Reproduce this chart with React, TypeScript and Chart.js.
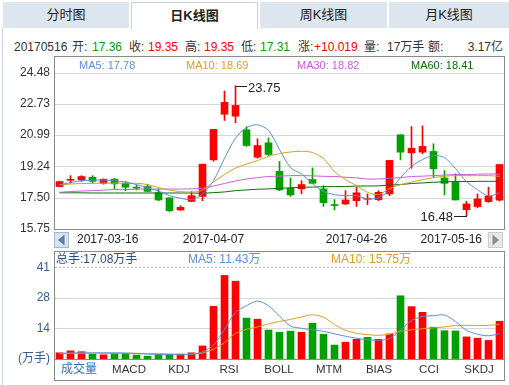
import React, { useEffect, useRef } from 'react';
import { Chart, registerables } from 'chart.js';

Chart.register(...registerables);

const FONT = "'Liberation Sans', Arial, 'Noto Sans CJK SC', sans-serif";
const RED = '#ff0000';
const GREEN = '#00a000';
const C_MA5 = '#5b8fd6';
const C_MA10 = '#d9a021';
const C_MA30 = '#c55fd6';
const C_MA60 = '#0b6b0b';

const dates = ['2017-03-16','2017-03-17','2017-03-20','2017-03-21','2017-03-22','2017-03-23','2017-03-24','2017-03-27','2017-03-28','2017-03-29','2017-03-30','2017-03-31','2017-04-05','2017-04-06','2017-04-07','2017-04-10','2017-04-11','2017-04-12','2017-04-13','2017-04-14','2017-04-17','2017-04-18','2017-04-19','2017-04-20','2017-04-21','2017-04-24','2017-04-25','2017-04-26','2017-04-27','2017-04-28','2017-05-02','2017-05-03','2017-05-04','2017-05-05','2017-05-08','2017-05-09','2017-05-10','2017-05-11','2017-05-12','2017-05-15','2017-05-16'];

const open = [18.12,18.47,18.49,18.64,18.30,18.53,18.30,18.06,18.12,17.78,17.49,16.81,17.29,17.57,19.61,22.16,22.05,21.29,19.76,20.56,18.97,18.02,17.99,18.51,17.99,17.10,17.15,17.33,17.41,17.39,17.71,21.01,20.00,20.04,20.08,18.60,18.36,16.83,17.00,17.28,17.36];
const close = [18.40,18.50,18.68,18.41,18.53,18.27,18.08,18.03,17.85,17.37,16.77,16.96,17.61,19.37,21.31,22.82,22.65,20.41,20.41,19.91,17.93,17.65,18.23,18.30,17.22,17.06,17.37,17.77,17.43,17.80,19.58,20.04,20.26,20.36,19.11,18.30,17.37,17.15,17.43,17.59,19.35];
const high = [18.42,18.73,18.73,18.73,18.55,18.58,18.40,18.21,18.25,17.99,17.49,17.05,17.84,19.37,21.31,23.45,23.75,21.47,20.79,20.84,19.52,18.60,18.45,19.16,18.17,17.39,17.89,18.08,17.71,17.89,19.58,21.01,21.47,21.51,20.51,19.01,18.83,17.29,17.71,18.08,19.35];
const low = [18.10,18.30,18.40,18.30,18.25,17.99,17.89,17.93,17.84,17.33,16.72,16.79,17.29,17.33,19.53,21.81,21.68,20.36,19.70,19.85,17.89,17.57,17.71,18.27,17.01,16.81,17.11,17.01,17.11,17.33,17.61,19.61,19.14,19.95,18.64,17.65,17.37,16.48,16.93,17.24,17.31];

const ma5 = [18.23,18.34,18.45,18.48,18.48,18.45,18.37,18.23,18.06,17.87,17.61,17.47,17.39,17.70,18.45,19.70,20.82,21.40,21.57,21.25,20.19,19.18,18.82,18.29,17.84,17.67,17.61,17.61,17.43,17.50,17.89,18.62,19.24,19.63,19.85,19.74,19.12,18.40,17.95,17.59,17.78];
const ma10 = [18.21,18.26,18.29,18.30,18.31,18.31,18.31,18.30,18.23,18.06,17.92,17.84,17.81,17.92,18.38,18.79,19.15,19.38,19.57,19.80,19.96,20.05,20.09,20.02,19.68,18.96,18.51,18.17,17.80,17.67,18.01,18.23,18.37,18.51,18.62,18.70,18.73,18.73,18.73,18.73,18.69];
const ma30 = [17.80,17.84,17.87,17.89,17.92,17.95,17.95,17.97,17.98,17.98,17.98,17.98,17.99,18.02,18.15,18.29,18.43,18.54,18.62,18.68,18.70,18.73,18.73,18.72,18.69,18.68,18.64,18.60,18.54,18.54,18.58,18.62,18.68,18.70,18.73,18.76,18.79,18.79,18.81,18.82,18.82];
const ma60 = [17.77,17.77,17.77,17.76,17.76,17.76,17.76,17.76,17.76,17.76,17.76,17.76,17.76,17.75,17.78,17.82,17.89,17.93,17.97,17.99,18.02,18.05,18.08,18.09,18.11,18.12,18.12,18.15,18.15,18.16,18.20,18.23,18.29,18.32,18.36,18.38,18.40,18.40,18.41,18.41,18.41];

const volume = [2.8,3.7,3.3,2.1,1.9,2.5,2.5,1.8,1.3,2.1,2.1,2.2,2.8,5.9,23.8,37.8,35.2,18.5,18.0,13.1,12.1,12.6,12.1,16.2,11.2,6.3,7.6,8.9,9.8,8.9,11.3,28.6,23.7,21.1,14.4,12.8,12.7,10.0,9.4,8.4,17.08];
const volDir = [1,1,1,-1,1,-1,-1,-1,-1,-1,-1,1,1,1,1,1,1,-1,1,-1,-1,-1,1,-1,-1,-1,1,1,-1,1,1,-1,1,1,-1,-1,-1,1,1,1,1];
const volMa5 = [2.6,2.7,2.8,2.8,2.8,2.8,2.7,2.5,2.2,2.1,2.0,1.9,2.1,3.2,6.3,13.4,21.0,24.1,26.2,24.1,19.4,14.9,13.9,13.2,12.5,11.4,10.3,9.4,8.7,8.5,9.2,13.0,17.4,19.2,19.6,19.9,17.0,13.0,11.2,10.5,11.43];
const volMa10 = [2.5,2.5,2.6,2.6,2.6,2.6,2.6,2.6,2.5,2.4,2.3,2.2,2.2,2.7,4.5,7.4,11.6,13.4,14.5,15.9,17.0,17.9,19.0,20.0,18.9,15.6,13.0,11.6,11.0,10.7,11.2,12.5,13.2,13.7,14.1,14.5,15.2,15.2,15.2,15.2,15.75];

const priceTicks = [15.75, 17.50, 19.24, 20.99, 22.73, 24.48];
const priceMin = 15.75;
const priceMax = 25.353;
const dateTickLabels = ['2017-03-16', '2017-04-07', '2017-04-26', '2017-05-16'];
const volTicks = [0, 13.8, 27.6, 41.4];
const volTickLabels = ['(万手)', '14', '28', '41'];
const volMax = 48.4;
const tabs = ['分时图', '日K线图', '周K线图', '月K线图'];
const indicatorNames = ['成交量', 'MACD', 'KDJ', 'RSI', 'BOLL', 'MTM', 'BIAS', 'CCI', 'SKDJ'];
const totalVolumeText = '17.08';

const idx = dates.map((_, i) => i);

function text(ctx: CanvasRenderingContext2D, s: string, x: number, y: number, color: string, size: number, align: CanvasTextAlign = 'left') {
  ctx.save();
  ctx.font = `${size}px ${FONT}`;
  ctx.fillStyle = color;
  ctx.textAlign = align;
  ctx.textBaseline = 'middle';
  ctx.fillText(s, x, y);
  ctx.restore();
}

function hline(ctx: CanvasRenderingContext2D, x1: number, x2: number, y: number, color: string, dash: number[] = []) {
  ctx.save();
  ctx.strokeStyle = color;
  ctx.lineWidth = 1;
  ctx.setLineDash(dash);
  ctx.beginPath();
  ctx.moveTo(x1, y);
  ctx.lineTo(x2, y);
  ctx.stroke();
  ctx.restore();
}

function button(ctx: CanvasRenderingContext2D, x: number, y: number, dir: number, bg: string, border: string, fg: string) {
  ctx.save();
  ctx.fillStyle = bg;
  ctx.fillRect(x, y, 15, 16);
  ctx.strokeStyle = border;
  ctx.strokeRect(x + 0.5, y + 0.5, 14, 15);
  ctx.fillStyle = fg;
  ctx.beginPath();
  const cx = x + 7.5, cy = y + 8;
  if (dir < 0) {
    ctx.moveTo(cx - 3.5, cy); ctx.lineTo(cx + 3, cy - 5.5); ctx.lineTo(cx + 3, cy + 5.5);
  } else {
    ctx.moveTo(cx + 3.5, cy); ctx.lineTo(cx - 3, cy - 5.5); ctx.lineTo(cx - 3, cy + 5.5);
  }
  ctx.closePath();
  ctx.fill();
  ctx.restore();
}

const xScaleOpts = { type: 'linear', min: -0.41, max: 40.41, offset: false, display: false, grid: { display: false } } as any;

const pricePlugin = {
  id: 'pricePlugin',
  beforeDatasetsDraw(chart: any) {
    const { ctx, chartArea: a, scales } = chart;
    priceTicks.forEach((v, i) => {
      if (i === 0) return;
      const py = Math.round(scales.y.getPixelForValue(v)) + 0.5;
      hline(ctx, a.left, a.right, py, '#d8d8d8');
    });
  },
  afterDraw(chart: any) {
    const { ctx, chartArea: a, scales } = chart;
    const xs = scales.x, ys = scales.y;
    ctx.save();
    ctx.strokeStyle = '#8a8a8a';
    ctx.lineWidth = 1;
    ctx.strokeRect(a.left - 0.5, a.top - 0.5, a.right - a.left + 1, a.bottom - a.top + 1);
    ctx.restore();
    const last = dates.length - 1;
    text(ctx, `MA5: ${ma5[last].toFixed(2)}`, 79, 66, C_MA5, 11);
    text(ctx, `MA10: ${ma10[last].toFixed(2)}`, 186, 66, C_MA10, 11);
    text(ctx, `MA30: ${ma30[last].toFixed(2)}`, 297, 66, C_MA30, 11);
    text(ctx, `MA60: ${ma60[last].toFixed(2)}`, 411, 66, C_MA60, 11);
    let hi = 0, lo = 0;
    high.forEach((v, i) => { if (v > high[hi]) hi = i; });
    low.forEach((v, i) => { if (v < low[lo]) lo = i; });
    const hx = Math.round(xs.getPixelForValue(hi)), hy = Math.round(ys.getPixelForValue(high[hi])) + 0.5;
    hline(ctx, hx, hx + 11, hy, '#222');
    text(ctx, high[hi].toFixed(2), hx + 12, hy + 2, '#222', 13);
    const lx = Math.round(xs.getPixelForValue(lo)), ly = Math.round(ys.getPixelForValue(low[lo])) + 0.5;
    hline(ctx, lx - 12, lx + 1, ly, '#222');
    text(ctx, low[lo].toFixed(2), lx - 13, ly + 1, '#222', 13, 'right');
    ctx.save();
    ctx.font = `12px ${FONT}`;
    dateTickLabels.forEach((d) => {
      const i = dates.indexOf(d);
      const px = xs.getPixelForValue(i);
      const w = ctx.measureText(d).width;
      let left = px - w / 2;
      left = Math.max(77, Math.min(left, 482 - w));
      text(ctx, d, left, 240, '#222', 12);
    });
    ctx.restore();
    button(ctx, a.left - 1, a.bottom + 3, -1, '#d7e3f1', '#a3b9d4', '#5b7fab');
    button(ctx, a.right - 16, a.bottom + 3, 1, '#e9e9e9', '#cccccc', '#8c8c8c');
  },
};

const volPlugin = {
  id: 'volPlugin',
  beforeDatasetsDraw(chart: any) {
    const { ctx, chartArea: a, scales } = chart;
    volTicks.forEach((v, i) => {
      if (i === 0) return;
      const py = Math.round(scales.y.getPixelForValue(v)) + 0.5;
      if (i === volTicks.length - 1) hline(ctx, a.left, a.right, py, '#b8b8b8', [2, 2]);
      else hline(ctx, a.left, a.right, py, '#d8d8d8');
    });
  },
  afterDraw(chart: any) {
    const { ctx, chartArea: a } = chart;
    ctx.save();
    ctx.strokeStyle = '#8a8a8a';
    ctx.lineWidth = 1;
    ctx.strokeRect(a.left - 0.5, a.top - 0.5, a.right - a.left + 1, 129);
    ctx.beginPath();
    ctx.moveTo(a.left, a.bottom + 0.5);
    ctx.lineTo(a.right, a.bottom + 0.5);
    ctx.stroke();
    ctx.restore();
    const last = dates.length - 1;
    text(ctx, `总手:${totalVolumeText}万手`, 56, 260, '#2d4f80', 12);
    text(ctx, `MA5: ${volMa5[last].toFixed(2)}万`, 188, 260, C_MA5, 12);
    text(ctx, `MA10: ${volMa10[last].toFixed(2)}万`, 331, 260, C_MA10, 12);
    indicatorNames.forEach((n, i) => {
      const cx = 79 + i * 50;
      if (i === 0) text(ctx, n, cx, 370, '#2e6fc2', 12, 'center');
      else text(ctx, n, cx, 370, '#333', 11.5, 'center');
    });
  },
};

export default function App() {
  const priceRef = useRef<HTMLCanvasElement>(null);
  const volRef = useRef<HTMLCanvasElement>(null);

  useEffect(() => {
    const candleColors = idx.map((i) => (close[i] >= open[i] ? RED : GREEN));
    const line = (data: number[], color: string) => ({
      type: 'line',
      data: idx.map((i) => ({ x: i, y: data[i] })),
      borderColor: color,
      borderWidth: 1,
      pointRadius: 0,
      tension: 0.3,
      fill: false,
    });
    const pc = new Chart(priceRef.current as HTMLCanvasElement, {
      type: 'bar',
      data: {
        datasets: [
          line(ma5, C_MA5),
          line(ma10, C_MA10),
          line(ma30, C_MA30),
          line(ma60, C_MA60),
          {
            type: 'bar',
            data: idx.map((i) => ({ x: i, y: [open[i], close[i]] })),
            backgroundColor: candleColors,
            barThickness: 7,
            minBarLength: 1,
            grouped: false,
            borderWidth: 0,
          },
          {
            type: 'bar',
            data: idx.map((i) => ({ x: i, y: [low[i], high[i]] })),
            backgroundColor: candleColors,
            barThickness: 1,
            grouped: false,
            borderWidth: 0,
          },
        ] as any,
      },
      options: {
        responsive: false,
        animation: false,
        devicePixelRatio: 1,
        events: [],
        layout: { padding: { left: 0, right: 5, top: 57, bottom: 156 } },
        plugins: { legend: { display: false }, tooltip: { enabled: false } },
        scales: {
          x: xScaleOpts,
          y: {
            min: priceMin,
            max: priceMax,
            afterBuildTicks: (s: any) => { s.ticks = priceTicks.map((v) => ({ value: v })); },
            afterFit: (s: any) => { s.width = 55; },
            ticks: {
              autoSkip: false,
              padding: 5,
              color: '#333',
              font: { family: FONT, size: 12 },
              callback: (v: any) => Number(v).toFixed(2),
            },
            grid: { display: false, drawTicks: false },
            border: { display: false },
          },
        },
      } as any,
      plugins: [pricePlugin],
    });

    const volColors = idx.map((i) => (volDir[i] > 0 ? RED : GREEN));
    const vc = new Chart(volRef.current as HTMLCanvasElement, {
      type: 'bar',
      data: {
        datasets: [
          line(volMa5, C_MA5),
          line(volMa10, C_MA10),
          {
            type: 'bar',
            data: idx.map((i) => ({ x: i, y: volume[i] })),
            backgroundColor: volColors,
            barThickness: 7,
            grouped: false,
            borderWidth: 0,
          },
        ] as any,
      },
      options: {
        responsive: false,
        animation: false,
        devicePixelRatio: 1,
        events: [],
        layout: { padding: { left: 0, right: 5, top: 252, bottom: 26 } },
        plugins: { legend: { display: false }, tooltip: { enabled: false } },
        scales: {
          x: xScaleOpts,
          y: {
            min: 0,
            max: volMax,
            afterBuildTicks: (s: any) => { s.ticks = volTicks.map((v) => ({ value: v })); },
            afterFit: (s: any) => { s.width = 55; },
            ticks: {
              autoSkip: false,
              padding: 5,
              color: '#3b5e8e',
              font: { family: FONT, size: 12 },
              callback: (_v: any, i: number) => volTickLabels[i],
            },
            grid: { display: false, drawTicks: false },
            border: { display: false },
          },
        },
      } as any,
      plugins: [volPlugin],
    });
    return () => { pc.destroy(); vc.destroy(); };
  }, []);

  const tabPos = [
    { left: 3, width: 126 },
    { left: 131, width: 127 },
    { left: 260, width: 127 },
    { left: 389, width: 120 },
  ];

  const info: { t: string; x: number; c: string; w?: number; right?: boolean }[] = [
    { t: '20170516', x: 14, c: '#333' },
    { t: '开:', x: 72, c: '#333' },
    { t: '17.36', x: 92, c: GREEN },
    { t: '收:', x: 129, c: '#333' },
    { t: '19.35', x: 148, c: RED },
    { t: '高:', x: 185, c: '#333' },
    { t: '19.35', x: 204, c: RED },
    { t: '低:', x: 241, c: '#333' },
    { t: '17.31', x: 260, c: GREEN },
    { t: '涨:', x: 298, c: '#333' },
    { t: '+10.0191%', x: 314, c: RED, w: 45 },
    { t: '量:', x: 364, c: '#333' },
    { t: '17万手', x: 387, c: '#333' },
    { t: '额:', x: 428, c: '#333' },
    { t: '3.17亿', x: 440, c: '#333', w: 63, right: true },
  ];

  return (
    <div style={{ position: 'fixed', left: 0, top: 0, width: 509, height: 385, background: '#fff', overflow: 'hidden', fontFamily: FONT }}>
      <div style={{ position: 'absolute', left: 2, top: 28, width: 507, height: 357, borderLeft: '1px solid #c9d2dc' }} />
      {tabs.map((t, i) => (
        <div
          key={t}
          style={{
            position: 'absolute',
            left: tabPos[i].left,
            top: 2,
            width: tabPos[i].width,
            height: i === 1 ? 27 : 26,
            boxSizing: 'border-box',
            background: i === 1 ? '#fff' : '#dde5ee',
            border: i === 1 ? '1px solid #c9d2dc' : 'none',
            borderBottom: 'none',
            fontSize: 13,
            fontWeight: i === 1 ? 'bold' : 'normal',
            color: '#222',
            textAlign: 'center',
            lineHeight: i === 1 ? '25px' : '26px',
          }}
        >
          {t}
        </div>
      ))}
      {info.map((it, i) => (
        <div
          key={i}
          style={{
            position: 'absolute',
            left: it.x,
            top: 40,
            width: it.w,
            overflow: 'hidden',
            whiteSpace: 'nowrap',
            textAlign: it.right ? 'right' : 'left',
            fontSize: 12,
            lineHeight: '15px',
            color: it.c,
          }}
        >
          {it.t}
        </div>
      ))}
      <canvas ref={priceRef} width={509} height={385} style={{ position: 'absolute', left: 0, top: 0, width: 509, height: 385 }} />
      <canvas ref={volRef} width={509} height={385} style={{ position: 'absolute', left: 0, top: 0, width: 509, height: 385 }} />
    </div>
  );
}
